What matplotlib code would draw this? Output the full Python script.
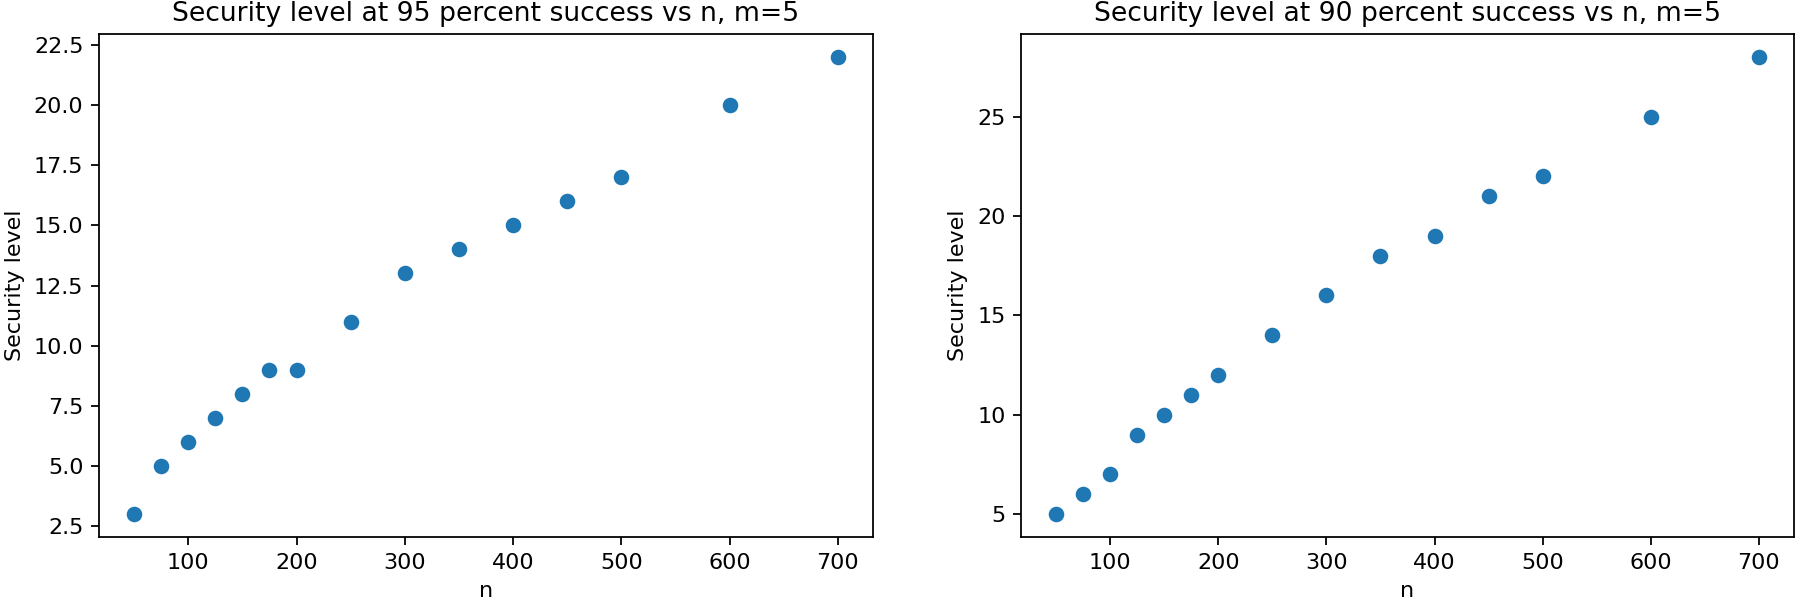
import matplotlib
matplotlib.use('Agg')
import matplotlib.pyplot as plt

n_vals = [50, 75, 100, 125, 150, 175, 200, 250, 300, 350, 400, 450, 500, 600, 700]
sec_95 = [3, 5, 6, 7, 8, 9, 9, 11, 13, 14, 15, 16, 17, 20, 22]
sec_90 = [5, 6, 7, 9, 10, 11, 12, 14, 16, 18, 19, 21, 22, 25, 28]

dpi = 160
fig = plt.figure(figsize=(1796 / dpi, 603 / dpi), dpi=dpi)

ax1 = fig.add_axes([99 / 1796, 66 / 603, 774 / 1796, 503 / 603])
ax2 = fig.add_axes([1021 / 1796, 66 / 603, 773 / 1796, 503 / 603])

ax1.scatter(n_vals, sec_95)
ax1.set_title('Security level at 95 percent success vs n, m=5')
ax1.set_xlabel('n')
ax1.set_ylabel('Security level')

ax2.scatter(n_vals, sec_90)
ax2.set_title('Security level at 90 percent success vs n, m=5')
ax2.set_xlabel('n')
ax2.set_ylabel('Security level')

fig.savefig('out.png', dpi=dpi)
